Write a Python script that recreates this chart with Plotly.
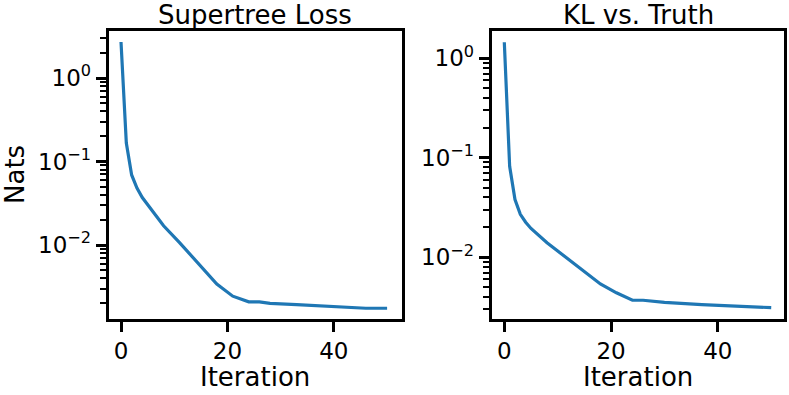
import plotly.graph_objects as go
from plotly.subplots import make_subplots

# values (log-scale, nats)
loss_iter = [0, 1, 2, 3, 4, 6, 8, 11, 14, 16, 18, 21, 24, 26, 28, 33, 40, 46, 50]
loss_vals = [2.7, 0.166, 0.069, 0.048, 0.037, 0.025, 0.017, 0.0107, 0.0065, 0.0046,
             0.0034, 0.00244, 0.00209, 0.00208, 0.0020, 0.00193, 0.00182, 0.00175, 0.00175]

kl_iter = [0, 1, 2, 3, 4, 5, 8, 12, 15, 18, 21, 24, 26, 30, 37, 43, 48, 50]
kl_vals = [1.45, 0.082, 0.038, 0.027, 0.0225, 0.0195, 0.014, 0.0096, 0.0071, 0.0054,
           0.0044, 0.0037, 0.0037, 0.00353, 0.00335, 0.00323, 0.00312, 0.00312]

titles = ["Supertree Loss", "KL vs. Truth"]
x_ticks = [0, 20, 40]
y_ticks = [1, 0.1, 0.01]
y_ticktext = ["10<sup>0</sup>", "10<sup>\u22121</sup>", "10<sup>\u22122</sup>"]
minor_vals = [m * 10.0 ** e for e in range(-3, 1) for m in range(2, 10)]

W, H = 789, 395
blue = "#1f77b4"
font = "DejaVu Sans"

fig = make_subplots(rows=1, cols=2)
fig.add_trace(go.Scatter(x=loss_iter, y=loss_vals, mode="lines",
                         line=dict(color=blue, width=3.2)), row=1, col=1)
fig.add_trace(go.Scatter(x=kl_iter, y=kl_vals, mode="lines",
                         line=dict(color=blue, width=3.2)), row=1, col=2)

axis_common = dict(showline=True, mirror=True, linecolor="black", linewidth=2.6,
                   showgrid=False, zeroline=False, ticks="outside", ticklen=10,
                   tickwidth=2.5, tickcolor="black",
                   tickfont=dict(family=font, size=23, color="black"))

fig.update_xaxes(**axis_common, tickmode="array", tickvals=x_ticks)
fig.update_yaxes(**axis_common, type="log", tickmode="array", tickvals=y_ticks,
                 ticktext=y_ticktext,
                 minor=dict(ticks="outside", ticklen=6, tickwidth=2, tickcolor="black",
                            tickmode="array", tickvals=minor_vals, showgrid=False))

ydom = [1 - 319 / H, 1 - 31 / H]
fig.update_layout(
    width=W, height=H, showlegend=False,
    margin=dict(l=0, r=0, t=0, b=0),
    plot_bgcolor="white", paper_bgcolor="white",
    xaxis=dict(domain=[108.5 / W, 402 / W], range=[-2.35, 52.8]),
    xaxis2=dict(domain=[491.5 / W, 783.5 / W], range=[-2.4, 52.3]),
    yaxis=dict(domain=ydom, range=[-2.886, 0.563]),
    yaxis2=dict(domain=ydom, range=[-2.62, 0.274]),
)

# panel titles, axis labels
ann_font = dict(family=font, size=26, color="black")
for cx, t in zip([255, 638], titles):
    fig.add_annotation(text=t, x=cx / W, y=1 - 15 / H, xref="paper", yref="paper",
                       showarrow=False, font=ann_font, xanchor="center", yanchor="middle")
    fig.add_annotation(text="Iteration", x=cx / W, y=1 - 377 / H, xref="paper", yref="paper",
                       showarrow=False, font=ann_font, xanchor="center", yanchor="middle")
fig.add_annotation(text="Nats", x=15 / W, y=1 - 175 / H, xref="paper", yref="paper",
                   showarrow=False, font=ann_font, textangle=-90,
                   xanchor="center", yanchor="middle")

fig.write_html("out.html", config={"displayModeBar": False},
               post_script="document.body.style.margin='0';")
